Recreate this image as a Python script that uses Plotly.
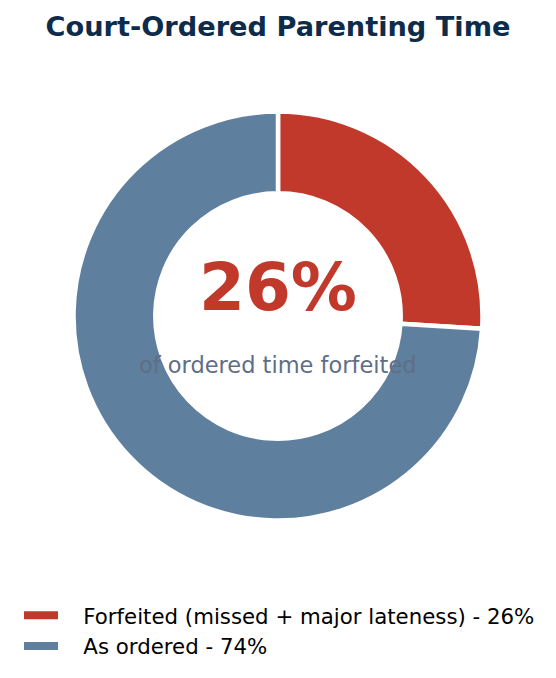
import plotly.graph_objects as go

# data
labels = ["Forfeited (missed + major lateness)", "As ordered"]
values = [26, 74]
colors = ["#c0392b", "#5f7f9e"]

# the page body adds an 8px margin, so the figure is 16px smaller than the window
W, H = 540, 662
FONT = "DejaVu Sans"
PAD = "\u00a0\u00a0\u00a0"  # push legend text away from the bar symbol

fig = go.Figure()

fig.add_trace(go.Pie(
    labels=labels,
    values=values,
    hole=0.6,
    sort=False,
    direction="clockwise",
    rotation=0,
    marker=dict(colors=colors, line=dict(color="white", width=4.5)),
    textinfo="none",
    hoverinfo="label+percent",
    showlegend=False,
    domain=dict(x=[0.1213, 0.8787], y=[0.2258, 0.8436]),
))

# legend entries drawn as thick bars
for lab, val, col in zip(labels, values, colors):
    fig.add_trace(go.Scatter(
        x=[None], y=[None], mode="lines",
        line=dict(color=col, width=8),
        name=f"{PAD}{lab} - {val}%",
    ))

fig.add_annotation(
    text=f"<b>{values[0]}%</b>", x=0.5, y=1 - 279 / H,
    xref="paper", yref="paper", showarrow=False,
    font=dict(family=FONT, size=66, color=colors[0]),
    xanchor="center", yanchor="middle",
)
fig.add_annotation(
    text="of ordered time forfeited", x=0.5, y=1 - 357 / H,
    xref="paper", yref="paper", showarrow=False,
    font=dict(family=FONT, size=22.5, color="#5e6e86"),
    xanchor="center", yanchor="middle",
)

fig.update_layout(
    width=W, height=H,
    margin=dict(l=0, r=0, t=0, b=0),
    paper_bgcolor="white", plot_bgcolor="white",
    title=dict(
        text="<b>Court-Ordered Parenting Time</b>",
        x=0.5, xanchor="center", y=1 - 18 / H, yanchor="middle",
        font=dict(family=FONT, size=27.2, color="#0d2b4b"),
    ),
    xaxis=dict(visible=False),
    yaxis=dict(visible=False),
    legend=dict(
        x=11 / W, y=1 - 587 / H, xanchor="left", yanchor="top",
        font=dict(family=FONT, size=21.3, color="black"),
        bgcolor="rgba(0,0,0,0)", itemwidth=34,
    ),
    font=dict(family=FONT),
)

fig.write_html("out.html")
